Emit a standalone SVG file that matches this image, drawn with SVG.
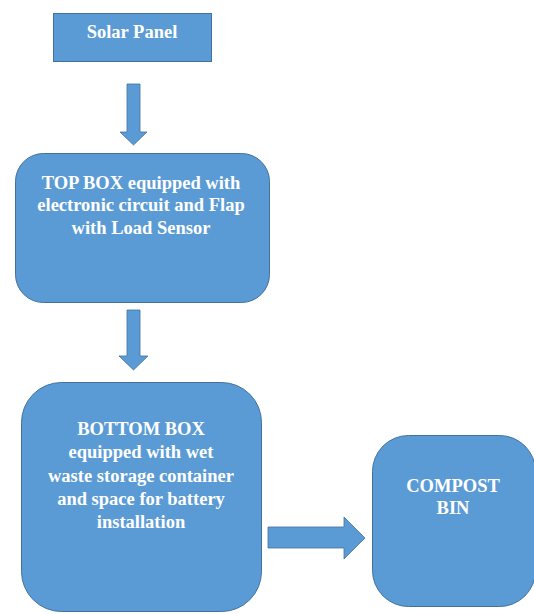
<svg xmlns="http://www.w3.org/2000/svg" width="534" height="614" viewBox="0 0 534 614">
  <style>
    .box { fill: #5B9BD5; stroke: #41719C; stroke-width: 1; }
    .arrow { fill: #5B9BD5; stroke: #41719C; stroke-width: 0.8; }
    .label { font-family: 'Liberation Serif', 'Times New Roman', serif; font-weight: bold; font-size: 18.5px; fill: #FFFFFF; text-anchor: middle; }
  </style>
  <rect width="534" height="614" fill="#FFFFFF"/>

  <g id="solar-panel">
    <rect class="box" x="53.5" y="13.5" width="158" height="48"/>
    <text class="label" x="132" y="38">Solar Panel</text>
  </g>

  <g id="top-box">
    <rect class="box" x="15.5" y="153.5" width="254" height="149" rx="28" ry="28"/>
    <text class="label" x="141" y="189">TOP BOX equipped with</text>
    <text class="label" x="141" y="211">electronic circuit and Flap</text>
    <text class="label" x="141" y="234">with Load Sensor</text>
  </g>

  <g id="bottom-box">
    <rect class="box" x="21.5" y="382.5" width="240" height="229" rx="40" ry="40"/>
    <text class="label" x="141" y="435">BOTTOM BOX</text>
    <text class="label" x="141" y="458">equipped with wet</text>
    <text class="label" x="141" y="482">waste storage container</text>
    <text class="label" x="141" y="505">and space for battery</text>
    <text class="label" x="141" y="528">installation</text>
  </g>

  <g id="compost-bin">
    <rect class="box" x="372.5" y="435.5" width="163" height="171" rx="36" ry="36"/>
    <text class="label" x="453" y="492">COMPOST</text>
    <text class="label" x="453" y="514">BIN</text>
  </g>

  <g id="connectors">
    <!-- solar panel to top box -->
    <polygon class="arrow" points="127,84 140,84 140,132 147,132 133.5,145 120,132 127,132"/>
    <!-- top box to bottom box -->
    <polygon class="arrow" points="127,310 140,310 140,356 148,356 133.5,370 119,356 127,356"/>
    <!-- bottom box to compost bin -->
    <polygon class="arrow" points="268,527 344,527 344,517 365,538 344,559 344,548 268,548"/>
  </g>
</svg>
